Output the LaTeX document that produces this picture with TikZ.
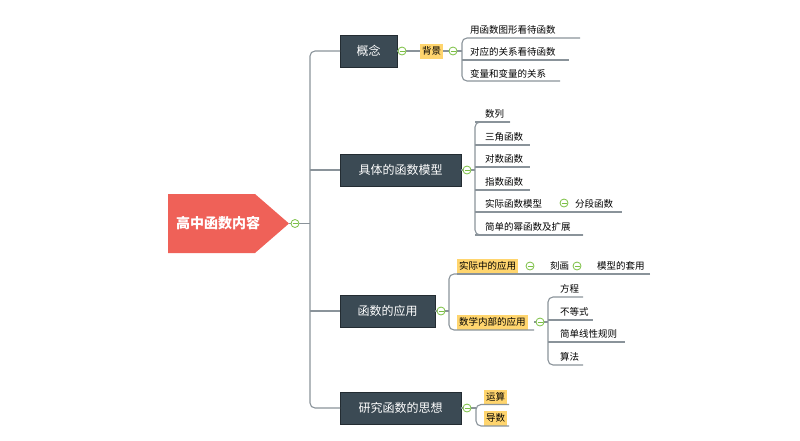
\documentclass[tikz,border=0pt]{standalone}
\usepackage{fontspec}
\setmainfont{Noto Sans CJK SC}
\usetikzlibrary{shapes.geometric,calc}
\definecolor{rootc}{HTML}{EF6158}
\definecolor{boxc}{HTML}{3B4A54}
\definecolor{yel}{HTML}{FFD56E}
\definecolor{lnc}{HTML}{8A939A}
\definecolor{grn}{HTML}{7BC043}
\tikzset{
 x=1pt,y=-1pt,
 box/.style={fill=boxc,draw=boxc!60!black,text=white,font=\fontsize{12}{12}\selectfont,minimum height=32,inner xsep=0,anchor=west},
 tag/.style={fill=yel,font=\fontsize{9.5}{10}\selectfont,inner xsep=2,inner ysep=0,minimum height=15,anchor=west},
 leaf/.style={font=\fontsize{9.5}{10}\selectfont,anchor=south west,inner sep=0,minimum height=14},
 ln/.style={draw=lnc,line width=1.1,rounded corners=5},
 tog/.style={circle,draw=grn,line width=0.8,fill=white,minimum size=8,inner sep=0,
   path picture={\draw[grn,line width=0.8] ($(path picture bounding box.west)+(1.5,0)$)--($(path picture bounding box.east)+(-1.5,0)$);}},
}
\begin{document}
\begin{tikzpicture}
\useasboundingbox (0,0) rectangle (800,440);
% root
\fill[rootc] (168,194)--(255,194)--(289,223.5)--(255,253)--(168,253)--cycle;
\node[text=white,font=\bfseries\fontsize{14}{14}\selectfont] (root) at (218,223.5) {高中函数内容};
\coordinate (trunk) at (310,223.5);
% main boxes
\node[box,minimum width=57] (b1) at (340,51) {概念};
\node[box,minimum width=121] (b2) at (340,170) {具体的函数模型};
\node[box,minimum width=95] (b3) at (340,311) {函数的应用};
\node[box,minimum width=121] (b4) at (340,408) {研究函数的思想};
\draw[ln,rounded corners=0] (289,223.5)--(trunk);
\draw[ln] (b1.west)--(310,51)--(310,408)--(b4.west);
\draw[ln] (310,170)--(b2.west);
\draw[ln] (310,311)--(b3.west);
\node[tog] (t0) at (295,223.5) {};
% 概念
\node[tag] (bg) at (420,51) {背景};
\draw[ln] (b1.east)--(bg.west);
\node[tog] at (402,51) {};
\node[leaf] (l11) at (470,37) {用函数图形看待函数};
\node[leaf] (l12) at (470,59) {对应的关系看待函数};
\node[leaf] (l13) at (470,81) {变量和变量的关系};
\draw[ln] (bg.east)--(462,51);
\draw[ln] (580,38)--(462,38)--(462,81)--(560,81);
\draw[ln] (462,60)--(569,60);
\node[tog] at (453,51) {};
% 具体
\foreach \y/\t/\w in {122/数列/510,145/三角函数/530,167/对数函数/530,190/指数函数/530,235/简单的幂函数及扩展/583}{
 \node[leaf] at (485,\y-1) {\t};
 \draw[ln] (475,\y)--(\w,\y);}
\node[leaf] (sj) at (485,211) {实际函数模型};
\node[leaf] (fd) at (575,211) {分段函数};
\draw[ln] (475,212)--(622,212);
\node[tog] at (564,203) {};
\draw[ln] (b2.east)--(475,170);
\draw[ln] (510,122)--(475,122)--(475,235)--(583,235);
\node[tog] at (467,170) {};
% 应用
\node[tag] (sjyy) at (457,266) {实际中的应用};
\node[tag] (sxyy) at (457,322) {数学内部的应用};
\node[leaf] (kh) at (550,273) {刻画};
\node[leaf] (mx) at (597,273) {模型的套用};
\draw[ln] (650,274)--(457,274);
\draw[ln] (b3.east)--(449,311);
\draw[ln] (457,274)--(449,274)--(449,330)--(534,330);
\node[tog] at (441,311) {};
\node[tog] at (530,266) {};
\node[tog] at (577,266) {};
\foreach \y/\t/\w in {297/方程/583,320/不等式/593,342/简单线性规则/625,365/算法/583}{
 \node[leaf] at (560,\y-1) {\t};}
\draw[ln] (534,322)--(548,322);
\draw[ln] (583,297)--(548,297)--(548,365)--(583,365);
\draw[ln] (548,320)--(593,320);
\draw[ln] (548,342)--(625,342);
\node[tog] at (540,322) {};
% 思想
\node[tag] (ys) at (484,397) {运算};
\node[tag] (ds) at (484,418) {导数};
\draw[ln] (b4.east)--(476,408);
\draw[ln] (509,404.5)--(476,404.5)--(476,426)--(509,426);
\node[tog] at (467,408) {};
\end{tikzpicture}
\end{document}
